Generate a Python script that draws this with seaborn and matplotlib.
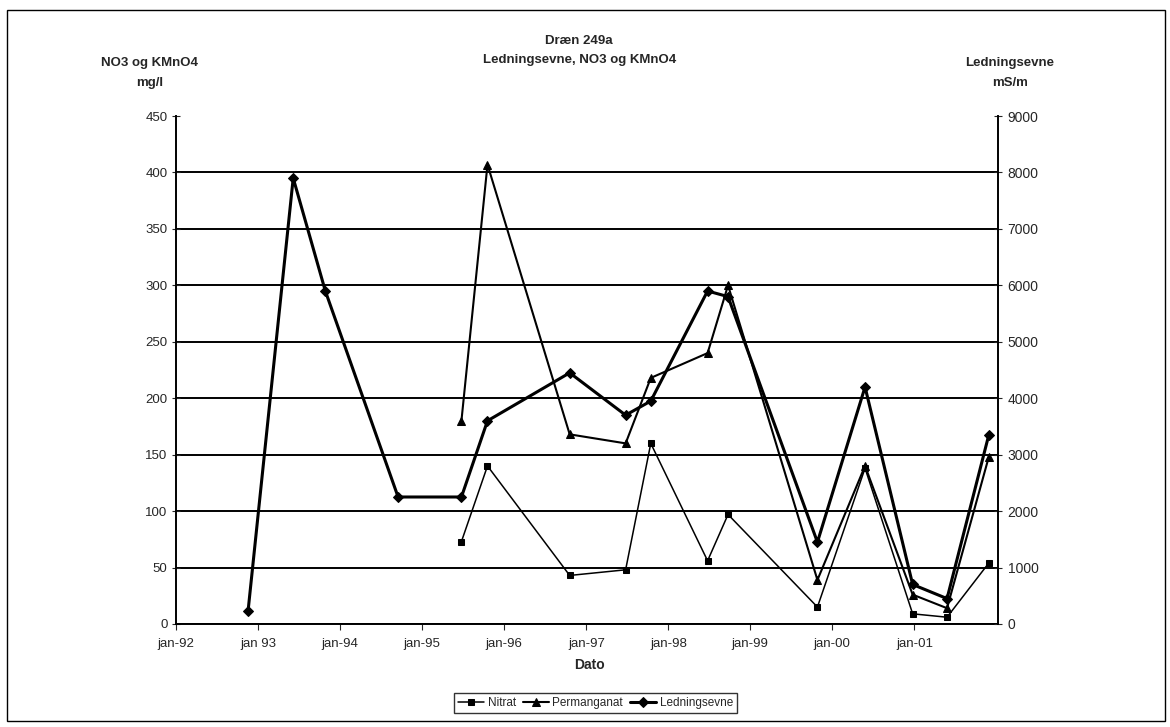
import pandas as pd
import matplotlib.pyplot as plt
import seaborn as sns
from matplotlib.patches import Rectangle

# sampling dates
dates = ['1992-11-17', '1993-06-06', '1993-10-27', '1994-09-16', '1995-06-25',
         '1995-10-19', '1996-10-19', '1997-06-25', '1997-10-15', '1998-06-25',
         '1998-09-24', '1999-10-27', '2000-05-26', '2000-12-24', '2001-05-26',
         '2001-11-28']

# left axis, mg/l (no values before mid 1995)
nitrat = [None, None, None, None, 73, 140, 43, 48, 160, 56, 97, 15, 138, 9, 6, 54]
permanganat = [None, None, None, None, 180, 407, 168, 160, 218, 240, 300, 39, 140, 26, 14, 148]
# right axis, mS/m
ledningsevne = [230, 7900, 5900, 2250, 2250, 3600, 4450, 3700, 3950, 5900, 5800,
                1450, 4200, 700, 450, 3350]

year_ticks = ['1992', '1993', '1994', '1995', '1996', '1997', '1998', '1999', '2000', '2001']
year_labels = ['jan-92', 'jan 93', 'jan-94', 'jan-95', 'jan-96', 'jan-97',
               'jan-98', 'jan-99', 'jan-00', 'jan-01']

df = pd.DataFrame({'date': pd.to_datetime(dates), 'Nitrat': nitrat,
                   'Permanganat': permanganat, 'Ledningsevne': ledningsevne})
df[['Nitrat', 'Permanganat']] = df[['Nitrat', 'Permanganat']].astype(float)

sns.set_style('white')
plt.rcParams['font.family'] = ['Liberation Sans', 'DejaVu Sans']

fig = plt.figure(figsize=(11.7, 7.27), dpi=100)
ax = fig.add_axes([0.1504, 0.1417, 0.7026, 0.6987])
ax2 = ax.twinx()

sns.lineplot(data=df, x='date', y='Nitrat', ax=ax, color='black', linewidth=1.1,
             marker='s', markersize=4, markeredgecolor='black', label='Nitrat', legend=False)
sns.lineplot(data=df, x='date', y='Permanganat', ax=ax, color='black', linewidth=1.5,
             marker='^', markersize=6, markeredgecolor='black', label='Permanganat', legend=False)
sns.lineplot(data=df, x='date', y='Ledningsevne', ax=ax2, color='black', linewidth=2.2,
             marker='D', markersize=5, markeredgecolor='black', label='Ledningsevne', legend=False)

ax.set_xlim(pd.Timestamp('1992-01-01'), pd.Timestamp('2002-01-08'))
ax.set_ylim(0, 450)
ax2.set_ylim(0, 9000)
ax.set_yticks(range(0, 451, 50))
ax2.set_yticks(range(0, 9001, 1000))
ax.set_xticks(pd.to_datetime(year_ticks))
ax.set_xticklabels(year_labels)

ax.yaxis.grid(True, color='black', linewidth=1.4)
ax.yaxis.get_gridlines()[-1].set_visible(False)
ax.set_axisbelow(True)

for a in (ax, ax2):
    a.spines['top'].set_visible(False)
    a.set_xlabel('')
    a.set_ylabel('')
    for s in ('left', 'right', 'bottom'):
        a.spines[s].set_color('black')
        a.spines[s].set_linewidth(1.4)
ax.spines['right'].set_visible(False)
ax2.spines['left'].set_visible(False)
ax2.spines['bottom'].set_visible(False)

ax.tick_params(axis='y', direction='inout', length=6, labelsize=9.5, pad=3, left=True)
ax.tick_params(axis='x', direction='out', length=4, labelsize=9.5, pad=6, bottom=True)
ax2.tick_params(axis='y', direction='inout', length=6, labelsize=10, pad=4, right=True)

fig.text(0.495, 0.943, 'Dræn 249a', ha='center', va='center', fontsize=9.5, fontweight='bold')
fig.text(0.495, 0.917, 'Ledningsevne, NO3 og KMnO4', ha='center', va='center',
         fontsize=9.5, fontweight='bold')
fig.text(0.128, 0.913, 'NO3 og KMnO4', ha='center', va='center', fontsize=9.5, fontweight='bold')
fig.text(0.128, 0.886, 'mg/l', ha='center', va='center', fontsize=9.5, fontweight='bold')
fig.text(0.863, 0.913, 'Ledningsevne', ha='center', va='center', fontsize=9.5, fontweight='bold')
fig.text(0.863, 0.886, 'mS/m', ha='center', va='center', fontsize=9.5, fontweight='bold')
fig.text(0.504, 0.085, 'Dato', ha='center', va='center', fontsize=10, fontweight='bold')

h1, l1 = ax.get_legend_handles_labels()
h2, l2 = ax2.get_legend_handles_labels()
leg = fig.legend(h1 + h2, l1 + l2, loc='center', bbox_to_anchor=(0.509, 0.033), ncol=3,
                 fontsize=8.5, frameon=True, fancybox=False, handlelength=2.2,
                 handletextpad=0.3, columnspacing=0.6, borderpad=0.35)
leg.get_frame().set_edgecolor('black')
leg.get_frame().set_linewidth(1)

fig.patches.append(Rectangle((0.006, 0.008), 0.99, 0.978, transform=fig.transFigure,
                             fill=False, edgecolor='black', linewidth=1))

fig.savefig('out.png', dpi=100)
